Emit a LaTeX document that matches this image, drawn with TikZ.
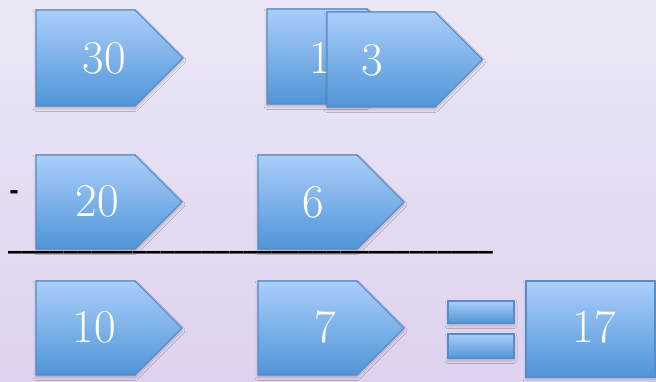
\documentclass[tikz,border=0pt]{standalone}
\usepackage{fontspec}
\newfontfamily\symfont{Liberation Sans}
\newfontfamily\rulefont{DejaVu Sans}
\usetikzlibrary{shadows.blur}
\definecolor{bgtop}{RGB}{236,231,246}
\definecolor{bgbot}{RGB}{222,210,238}
\definecolor{ptop}{RGB}{170,206,250}
\definecolor{pbot}{RGB}{80,149,216}
\definecolor{pbd}{RGB}{88,140,196}
\tikzset{
  plate/.style={draw=pbd, line width=1.2pt, top color=ptop, bottom color=pbot,
    blur shadow={shadow xshift=0pt, shadow yshift=-2.5pt, shadow opacity=22, shadow blur steps=6, shadow blur radius=3pt}},
  num/.style={text=white, inner sep=0pt, font=\fontsize{47}{50}\selectfont},
}
\newcommand\homeplate[4]{%
  \path[plate] (#1,#2) -- ++(#3,0) -- ++({#4/2},{#4/2}) -- ++({-#4/2},{#4/2}) -- ++({-#3},0) -- cycle;}
\begin{document}
\begin{tikzpicture}[x=1pt,y=-1pt]
\shade[top color=bgtop, bottom color=bgbot] (0,0) rectangle (656,381);
\useasboundingbox (0,0) rectangle (656,381);
% row 1
\homeplate{36}{10}{99}{96}
\node[num] (n30) at (104,58) {30};
\homeplate{267}{9}{100}{95}
\node[num] (n1) at (320,58) {1};
\homeplate{327}{12}{108}{95}
\node[num] (n3) at (372,60) {3};
% row 2
\node[inner sep=0pt, font=\symfont\bfseries\fontsize{28}{30}\selectfont] (minus) at (14,195) {-};
\homeplate{36}{155}{99}{94}
\node[num] (n20) at (97,201) {20};
\homeplate{258}{155}{99}{94}
\node[num] (n6) at (313,202) {6};
\node[anchor=base west, inner sep=0pt, font=\rulefont\bfseries\fontsize{27.7}{29}\selectfont] (rule) at (8,247)
  {\_\_\_\_\_\_\_\_\_\_\_\_\_\_\_\_\_\_\_\_\_\_\_\_\_\_\_\_\_\_\_\_\_\_\_};
% row 3
\homeplate{36}{281}{99}{94}
\node[num] (n10) at (94,327) {10};
\homeplate{258}{281}{99}{94}
\node[num] (n7) at (325,327) {7};
\path[plate] (448,301) rectangle (514,323);
\path[plate] (448,334) rectangle (514,358);
\path[plate] (526,281) rectangle (655,377);
\node[num] (n17) at (594,327) {17};
\end{tikzpicture}
\end{document}
